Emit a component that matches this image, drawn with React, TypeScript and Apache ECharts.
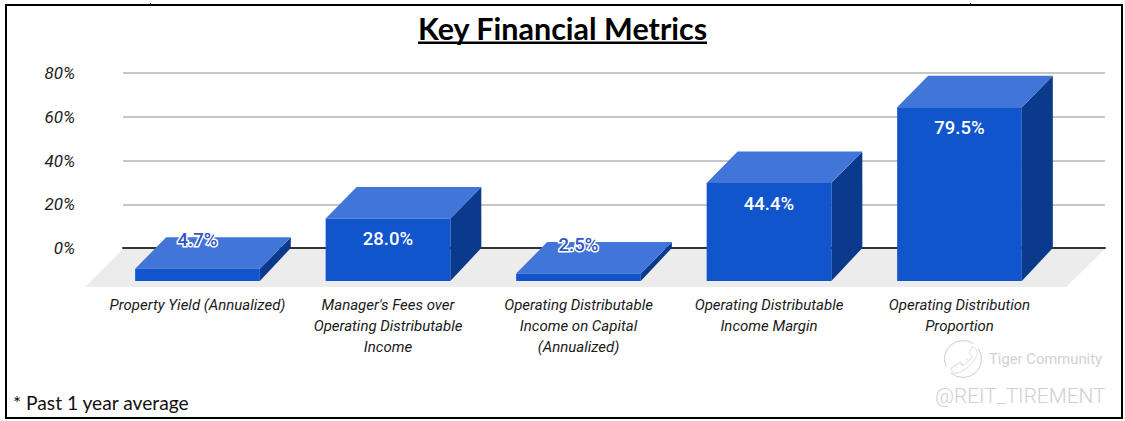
import React, { useEffect, useRef } from "react";
import * as echarts from "echarts";

const TITLE = "Key Financial Metrics";
const FOOTNOTE = "* Past 1 year average";
const categories = [
  "Property Yield (Annualized)",
  "Manager's Fees over\nOperating Distributable\nIncome",
  "Operating Distributable\nIncome on Capital\n(Annualized)",
  "Operating Distributable\nIncome Margin",
  "Operating Distribution\nProportion",
];
const metricValues = [4.7, 28.0, 2.5, 44.4, 79.5];

const FRONT = "#1155cc";
const TOP = "#4175d7";
const SIDE = "#0b3a8c";
const FONT = "Roboto";

echarts.graphic.registerShape(
  "tigerHandset",
  echarts.graphic.extendPath(
    "M2 25 C3 31 9 32 14 29 C22 25 30 17 33 9 C34 5 32 1 27 0 L24 7 L27 11 C25 15 20 20 16 22 L12 19 Z M6 20 L10 24 M12 17 L17 21 M19 13 L23 16",
    {}
  )
);

function renderBar(params: any, api: any) {
  const i = api.value(0);
  const v = api.value(1);
  const [cx, yVal] = api.coord([i, v]);
  const [, y0] = api.coord([i, 0]);
  const band = api.size([1, 0])[0];
  const w = band * 0.6545;
  const depthX = 31;
  const x0 = cx - w / 2;
  const x1 = cx + w / 2;
  const backTop = yVal + (y0 - yVal) * 0.012 - 0.5;
  const frontTop = backTop + 31.5;
  const frontBottom = y0 + 33;
  const backBottom = y0;
  const frontH = frontBottom - frontTop;
  const small = frontH < 30;
  const label = v.toFixed(1) + "%";
  return {
    type: "group",
    children: [
      {
        type: "polygon",
        shape: { points: [[x1, frontTop], [x1 + depthX, backTop], [x1 + depthX, backBottom], [x1, frontBottom]] },
        style: { fill: SIDE },
      },
      {
        type: "polygon",
        shape: { points: [[x0, frontTop], [x0 + depthX, backTop], [x1 + depthX, backTop], [x1, frontTop]] },
        style: { fill: TOP },
      },
      {
        type: "rect",
        shape: { x: x0, y: frontTop, width: w, height: frontBottom - frontTop },
        style: { fill: FRONT },
      },
      {
        type: "text",
        x: cx,
        y: small ? yVal + 2.5 : frontTop + 20.5,
        z2: 10,
        style: {
          text: label,
          fontFamily: FONT,
          fontSize: 18.5,
          fontWeight: 500,
          align: "center",
          verticalAlign: "middle",
          fill: small ? "#2f56c4" : "#ffffff",
          stroke: small ? "#ffffff" : undefined,
          lineWidth: small ? 3 : 0,
        },
      },
    ],
  };
}

export default function App() {
  const ref = useRef<HTMLDivElement>(null);
  useEffect(() => {
    document.body.style.margin = "0";
    document.body.style.background = "#ffffff";
    const chart = echarts.init(ref.current!, undefined, { renderer: "svg" });
    const gridTop = 73;
    const gridH = 175;
    chart.setOption({
      animation: false,
      backgroundColor: "#ffffff",
      grid: [
        { left: 123, right: 20, top: gridTop, height: gridH },
        { left: 102.25, width: 952.5, top: gridTop, height: gridH },
      ],
      xAxis: [
        {
          gridIndex: 0,
          type: "category",
          data: categories,
          axisTick: { show: false },
          axisLabel: { show: false },
          axisLine: { show: true, lineStyle: { color: "#333333", width: 2 } },
          z: 2,
        },
        {
          gridIndex: 1,
          type: "category",
          data: categories,
          axisTick: { show: false },
          axisLine: { show: false },
          axisLabel: {
            interval: 0,
            margin: 46.5,
            fontFamily: FONT,
            fontStyle: "italic",
            fontSize: 15,
            lineHeight: 21,
            color: "#1a1a1a",
            align: "center",
            verticalAlign: "top",
          },
        },
      ],
      yAxis: [
        {
          gridIndex: 0,
          type: "value",
          min: 0,
          max: 80,
          interval: 20,
          axisLine: { show: false },
          axisTick: { show: false },
          splitLine: { show: true, lineStyle: { color: "#c6c6c6", width: 2 } },
          axisLabel: {
            margin: 48,
            fontFamily: FONT,
            fontStyle: "italic",
            fontSize: 17,
            color: "#222222",
            formatter: "{value}%",
          },
        },
        {
          gridIndex: 1,
          type: "value",
          min: 0,
          max: 80,
          interval: 20,
          show: false,
        },
      ],
      series: [
        {
          type: "custom",
          xAxisIndex: 1,
          yAxisIndex: 1,
          clip: false,
          z: 5,
          renderItem: renderBar,
          encode: { x: 0, y: 1 },
          data: metricValues.map((v, i) => [i, v]),
        },
      ],
      graphic: [
        {
          type: "polygon",
          z: 0,
          silent: true,
          shape: { points: [[123, 249], [1105, 249], [1066, 287], [85, 287]] },
          style: { fill: "#ececec" },
        },
        {
          type: "rect",
          z: 20,
          silent: true,
          shape: { x: 6, y: 5, width: 1116, height: 413 },
          style: { fill: "none", stroke: "#000000", lineWidth: 2 },
        },
        { type: "rect", z: 20, silent: true, shape: { x: 150, y: 3, width: 1, height: 2 }, style: { fill: "#000" } },
        { type: "rect", z: 20, silent: true, shape: { x: 970, y: 3, width: 1, height: 2 }, style: { fill: "#000" } },
        {
          type: "text",
          z: 20,
          x: 562.5,
          y: 27.5,
          style: {
            text: TITLE,
            fontFamily: "Lato",
            fontWeight: 700,
            fontSize: 30.5,
            fill: "#000000",
            align: "center",
            verticalAlign: "middle",
          },
        },
        { type: "rect", z: 20, silent: true, shape: { x: 418, y: 41.5, width: 289, height: 2.5 }, style: { fill: "#000" } },
        {
          type: "text",
          z: 20,
          x: 13,
          y: 402.5,
          style: {
            text: FOOTNOTE,
            fontFamily: "Lato",
            fontSize: 19.2,
            fill: "#111111",
            align: "left",
            verticalAlign: "middle",
          },
        },
        {
          type: "arc",
          z: 20,
          silent: true,
          shape: { cx: 963, cy: 359, r: 18.5, startAngle: -0.6, endAngle: 2.3, clockwise: true },
          style: { fill: "none", stroke: "#cccccc", lineWidth: 1 },
        },
        {
          type: "arc",
          z: 20,
          silent: true,
          shape: { cx: 963, cy: 359, r: 18.5, startAngle: 2.7, endAngle: 5.3, clockwise: true },
          style: { fill: "none", stroke: "#cccccc", lineWidth: 1 },
        },
        {
          type: "tigerHandset",
          z: 20,
          silent: true,
          x: 949,
          y: 347,
          scaleX: 0.85,
          scaleY: 0.85,
          style: { fill: "none", stroke: "#d4d4d4", lineWidth: 1 },
        },
        {
          type: "text",
          z: 20,
          x: 989,
          y: 359,
          style: {
            text: "Tiger Community",
            fontFamily: FONT,
            fontSize: 14.8,
            fill: "#d2d2d2",
            align: "left",
            verticalAlign: "middle",
          },
        },
        {
          type: "text",
          z: 20,
          x: 935,
          y: 396,
          style: {
            text: "@REIT_TIREMENT",
            fontFamily: FONT,
            fontWeight: 300,
            fontSize: 20.8,
            fill: "#cfcfcf",
            align: "left",
            verticalAlign: "middle",
          },
        },
      ],
    });
    return () => chart.dispose();
  }, []);
  return <div ref={ref} style={{ width: 1125, height: 421 }} />;
}
